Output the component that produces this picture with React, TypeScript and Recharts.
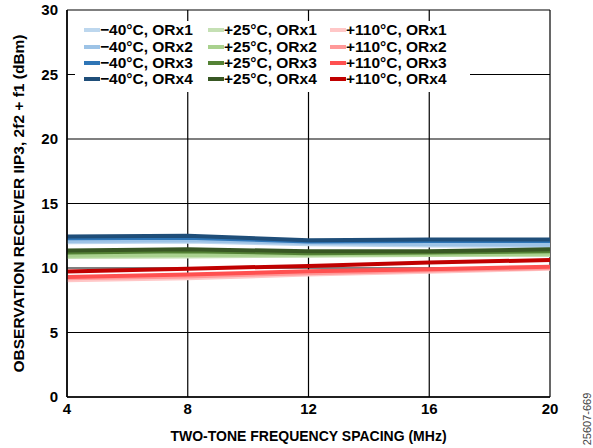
import { LineChart, Line, XAxis, YAxis, CartesianGrid, Label } from "recharts";

// two-tone spacing, MHz
const FREQ_MHZ = [4, 8, 12, 16, 20];
const Y_TICKS = [0, 5, 10, 15, 20, 25, 30];

// IIP3 (dBm)
const M40_ORX1 = [12.0, 12.05, 11.85, 11.75, 11.7];
const M40_ORX2 = [12.1, 12.15, 11.95, 11.85, 11.8];
const M40_ORX3 = [12.3, 12.35, 12.05, 12.1, 12.1];
const M40_ORX4 = [12.45, 12.5, 12.15, 12.2, 12.2];

const P25_ORX1 = [10.85, 10.9, 10.95, 11.0, 11.0];
const P25_ORX2 = [10.95, 11.0, 11.05, 11.05, 11.1];
const P25_ORX3 = [11.2, 11.3, 11.15, 11.2, 11.3];
const P25_ORX4 = [11.35, 11.45, 11.3, 11.3, 11.45];

const P110_ORX1 = [9.05, 9.2, 9.5, 9.7, 9.95];
const P110_ORX2 = [9.2, 9.35, 9.6, 9.8, 10.0];
const P110_ORX3 = [9.3, 9.5, 9.75, 9.9, 10.1];
const P110_ORX4 = [9.72, 9.95, 10.16, 10.42, 10.62];

const SERIES: { key: string; name: string; values: number[] }[] = [
  { key: "m40_1", name: "\u221240°C, ORx1", values: M40_ORX1 },
  { key: "m40_2", name: "\u221240°C, ORx2", values: M40_ORX2 },
  { key: "m40_3", name: "\u221240°C, ORx3", values: M40_ORX3 },
  { key: "m40_4", name: "\u221240°C, ORx4", values: M40_ORX4 },
  { key: "p25_1", name: "+25°C, ORx1", values: P25_ORX1 },
  { key: "p25_2", name: "+25°C, ORx2", values: P25_ORX2 },
  { key: "p25_3", name: "+25°C, ORx3", values: P25_ORX3 },
  { key: "p25_4", name: "+25°C, ORx4", values: P25_ORX4 },
  { key: "p110_1", name: "+110°C, ORx1", values: P110_ORX1 },
  { key: "p110_2", name: "+110°C, ORx2", values: P110_ORX2 },
  { key: "p110_3", name: "+110°C, ORx3", values: P110_ORX3 },
  { key: "p110_4", name: "+110°C, ORx4", values: P110_ORX4 },
];

const COLORS: Record<string, string> = {
  m40_1: "#bdd7ee",
  m40_2: "#9dc3e6",
  m40_3: "#2e75b6",
  m40_4: "#1f4e79",
  p25_1: "#c5e0b4",
  p25_2: "#a9d18e",
  p25_3: "#548235",
  p25_4: "#385723",
  p110_1: "#ffc7c7",
  p110_2: "#ff9999",
  p110_3: "#ff5050",
  p110_4: "#c00000",
};

const rows = FREQ_MHZ.map((f, i) => {
  const row: Record<string, number> = { freq: f };
  SERIES.forEach((s) => (row[s.key] = s.values[i]));
  return row;
});

const FONT = '"Liberation Sans", Arial, sans-serif';

function LegendBox() {
  return (
    <div
      style={{
        position: "absolute",
        left: 75,
        top: 21,
        background: "#fff",
        display: "grid",
        gridTemplateRows: "repeat(4, 16.4px)",
        gridTemplateColumns: "124px 122px 130px",
        gridAutoFlow: "column",
        padding: "1px 10px 4px 9px",
        fontFamily: FONT,
        fontWeight: 700,
        fontSize: 15.5,
        color: "#000",
      }}
    >
      {SERIES.map((s) => (
        <div key={s.key} style={{ display: "flex", alignItems: "center", whiteSpace: "nowrap" }}>
          <span style={{ width: 16, height: 4, background: COLORS[s.key], display: "inline-block" }} />
          <span style={{ lineHeight: "16px" }}>{s.name}</span>
        </div>
      ))}
    </div>
  );
}

function YTitle({ viewBox }: any) {
  const cy = viewBox.y + viewBox.height / 2;
  return (
    <text
      x={18}
      y={cy}
      transform={`rotate(-90, 18, ${cy})`}
      textAnchor="middle"
      dominantBaseline="central"
      style={{ fontFamily: FONT, fontWeight: 700, fontSize: 15.5, fill: "#000" }}
    >
      OBSERVATION RECEIVER IIP3, 2f2 + f1 (dBm)
    </text>
  );
}

export default function App() {
  const tick = { fontFamily: FONT, fontWeight: 700, fontSize: 15, fill: "#000" };
  return (
    <div style={{ position: "absolute", left: 0, top: 0, width: 593, height: 448, background: "#fff" }}>
      <LineChart width={593} height={448} data={rows} margin={{ top: 10, right: 43, bottom: 0, left: 0 }}>
        <CartesianGrid stroke="#000" strokeWidth={1.2} />
        <XAxis
          dataKey="freq"
          type="number"
          domain={[4, 20]}
          ticks={FREQ_MHZ}
          height={51}
          axisLine={{ stroke: "#000", strokeWidth: 1.5 }}
          tickLine={false}
          tickSize={4}
          tick={tick}
        >
          <Label
            value="TWO-TONE FREQUENCY SPACING (MHz)"
            position="insideBottom"
            offset={7}
            style={{ fontFamily: FONT, fontWeight: 700, fontSize: 14, fill: "#000" }}
          />
        </XAxis>
        <YAxis
          type="number"
          domain={[0, 30]}
          ticks={Y_TICKS}
          width={67}
          axisLine={{ stroke: "#000", strokeWidth: 1.5 }}
          tickLine={false}
          tickSize={0}
          tickMargin={9}
          tick={tick}
        >
          <Label content={<YTitle />} />
        </YAxis>
        {SERIES.map((s) => (
          <Line
            key={s.key}
            dataKey={s.key}
            name={s.name}
            stroke={COLORS[s.key]}
            strokeWidth={4}
            dot={false}
            isAnimationActive={false}
          />
        ))}
      </LineChart>
      <LegendBox />
      <div
        style={{
          position: "absolute",
          left: 587,
          top: 419,
          transform: "translate(-50%, -50%) rotate(-90deg)",
          fontFamily: FONT,
          fontSize: 11,
          color: "#444",
          whiteSpace: "nowrap",
        }}
      >
        25607-669
      </div>
    </div>
  );
}
